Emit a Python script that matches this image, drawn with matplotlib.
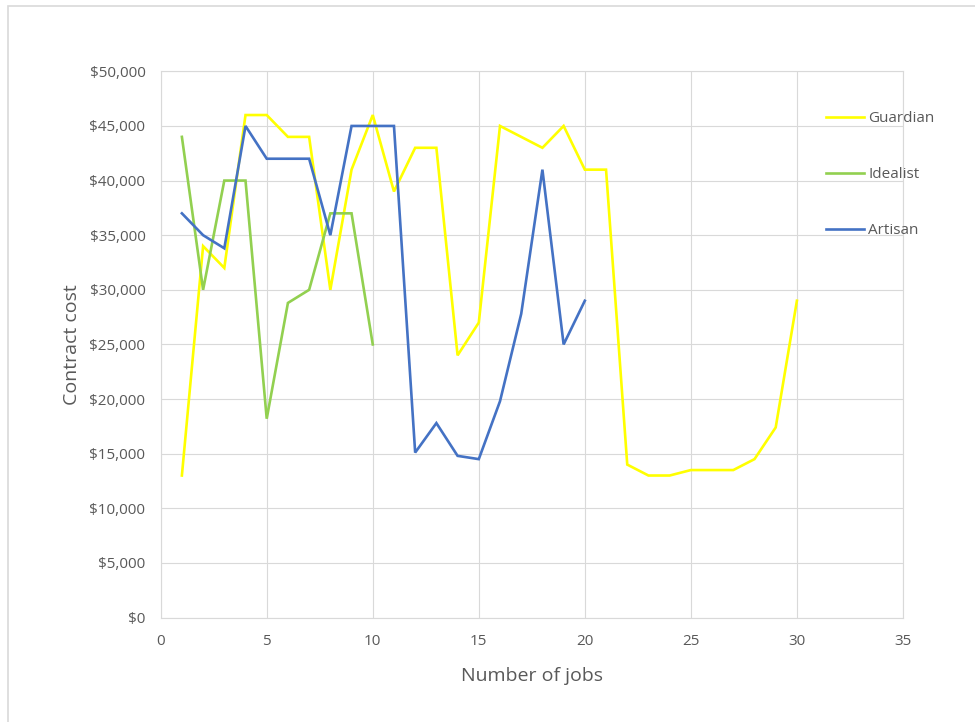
import matplotlib.pyplot as plt
from matplotlib.patches import Rectangle
from matplotlib.ticker import FuncFormatter, MultipleLocator

# contract cost by number of jobs, one series per temperament
guardian_jobs = list(range(1, 31))
guardian_cost = [13000, 34000, 32000, 46000, 46000, 44000, 44000, 30000, 41000, 46000,
                 39000, 43000, 43000, 24000, 27000, 45000, 44000, 43000, 45000, 41000,
                 41000, 14000, 13000, 13000, 13500, 13500, 13500, 14500, 17400, 29000]

idealist_jobs = list(range(1, 11))
idealist_cost = [44000, 30000, 40000, 40000, 18200, 28800, 30000, 37000, 37000, 25000]

artisan_jobs = list(range(1, 21))
artisan_cost = [37000, 35000, 33800, 45000, 42000, 42000, 42000, 35000, 45000, 45000,
                45000, 15100, 17800, 14800, 14500, 19800, 27800, 41000, 25000, 29000]

series = [
    ("Guardian", guardian_jobs, guardian_cost, "#FFFF00"),
    ("Idealist", idealist_jobs, idealist_cost, "#92D050"),
    ("Artisan", artisan_jobs, artisan_cost, "#4472C4"),
]

text_grey = "#595959"
grid_grey = "#D9D9D9"
plt.rcParams['font.family'] = ['Open Sans', 'DejaVu Sans']

fig = plt.figure(figsize=(9.75, 7.22), dpi=100)
ax = fig.add_axes([0.1648, 0.1447, 0.7613, 0.7565])

for name, x, y, color in series:
    ax.plot(x, y, color=color, linewidth=1.9, label=name, solid_joinstyle='miter')

ax.set_xlim(0, 35)
ax.set_ylim(0, 50000)
ax.xaxis.set_major_locator(MultipleLocator(5))
ax.yaxis.set_major_locator(MultipleLocator(5000))
ax.yaxis.set_major_formatter(FuncFormatter(lambda v, p: "${:,.0f}".format(v)))
ax.grid(True, color=grid_grey, linewidth=0.8)
ax.set_axisbelow(True)
for s in ax.spines.values():
    s.set_color(grid_grey)
    s.set_linewidth(0.8)
ax.tick_params(length=0, labelsize=11, labelcolor=text_grey)
ax.tick_params(axis='y', pad=11)
ax.tick_params(axis='x', pad=12)

ax.set_xlabel("Number of jobs", fontsize=14, color=text_grey, labelpad=13)
ax.set_ylabel("Contract cost", fontsize=14, color=text_grey, labelpad=6)

leg = ax.legend(loc='upper left', bbox_to_anchor=(826 / 975, 1 - 111 / 722),
                bbox_transform=fig.transFigure, frameon=False, fontsize=11,
                handlelength=2.5, handletextpad=0.25, labelspacing=2.7,
                borderpad=0, borderaxespad=0)
for t in leg.get_texts():
    t.set_color(text_grey)

# chart border, cut off at the right and bottom edges
fig.patches.append(Rectangle((7.5 / 975, -0.1), 1.2, 1 - 6 / 722 + 0.1,
                             transform=fig.transFigure, fill=False,
                             edgecolor=grid_grey, linewidth=1.2))

fig.savefig("out.png", dpi=100)
